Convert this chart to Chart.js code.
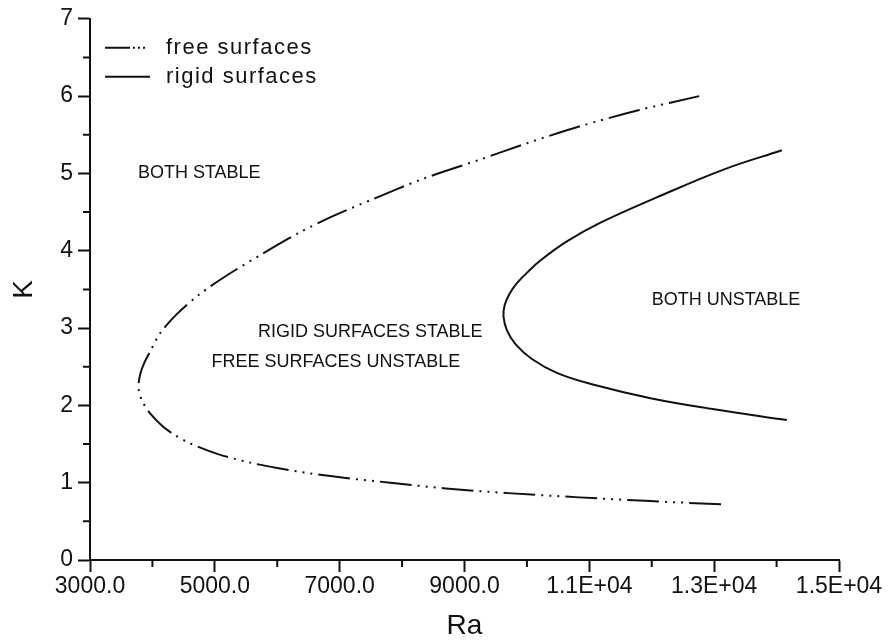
<!DOCTYPE html>
<html>
<head>
<meta charset="utf-8">
<title>Ra - K</title>
<script src="https://cdn.jsdelivr.net/npm/chart.js@4.4.0/dist/chart.umd.min.js"></script>
<style>
  html, body { margin: 0; padding: 0; background: #fff; }
  #grafica { display: block; }
</style>
</head>
<body>
<canvas id="grafica" width="896" height="643"></canvas>
<script>
// Curva de superficies libres (desde el extremo inferior hasta el superior)
const libreRa = [13110, 11900, 10840, 9700, 8700, 7810, 7100, 6530, 6000, 5560, 5050, 4600, 4350, 4150, 3960, 3840, 3785, 3778, 3810, 3870, 3960, 4120, 4390, 4760, 5190, 5720, 6365, 6900, 7540, 8300, 9250, 10000, 10850, 11800, 12760];
const libreK  = [0.72, 0.765, 0.81, 0.865, 0.925, 1.00, 1.06, 1.12, 1.19, 1.26, 1.37, 1.51, 1.62, 1.74, 1.90, 2.05, 2.18, 2.28, 2.42, 2.55, 2.69, 2.93, 3.18, 3.44, 3.68, 3.94, 4.24, 4.45, 4.67, 4.92, 5.18, 5.39, 5.61, 5.82, 6.00];

// Curva de superficies rigidas
const rigidaRa = [14165, 13000, 12000, 11010, 10480, 10080, 9820, 9680, 9625, 9645, 9720, 9840, 10020, 10210, 10640, 11170, 12080, 13150, 14085];
const rigidaK  = [1.81, 1.95, 2.09, 2.28, 2.42, 2.60, 2.79, 2.97, 3.15, 3.30, 3.44, 3.58, 3.73, 3.87, 4.12, 4.36, 4.69, 5.05, 5.30];

// Marcas de los ejes
const xTicks = [3000, 5000, 7000, 9000, 11000, 13000, 15000];
const xTickLabels = ['3000.0', '5000.0', '7000.0', '9000.0', '1.1E+04', '1.3E+04', '1.5E+04'];
const yTicks = [0, 1, 2, 3, 4, 5, 6, 7];
const yTickLabels = ['0', '1', '2', '3', '4', '5', '6', '7'];

// Leyenda y textos de las regiones
const leyenda = ['free surfaces', 'rigid surfaces'];
const regiones = ['BOTH STABLE', 'RIGID SURFACES STABLE', 'FREE SURFACES UNSTABLE', 'BOTH UNSTABLE'];
const regionesRa = [4750, 7490, 6940, 13190];
const regionesK = [5.0, 2.95, 2.565, 3.365];

const NEGRO = '#111';
const trazoLibre = [32, 6, 2, 6, 2, 6, 2, 6];

function puntos(xs, ys) {
    return xs.map((v, i) => ({ x: v, y: ys[i] }));
}

// Plugin para marcas menores, leyenda y textos
const extras = {
    id: 'extras',
    afterDraw(chart) {
        const ctx = chart.ctx;
        const area = chart.chartArea;
        const sx = chart.scales.x;
        const sy = chart.scales.y;
        ctx.save();
        ctx.strokeStyle = NEGRO;
        ctx.lineWidth = 2;

        // marcas menores
        ctx.beginPath();
        sx.ticks.forEach(t => {
            if (!xTicks.includes(t.value)) {
                const px = sx.getPixelForValue(t.value);
                ctx.moveTo(px, area.bottom);
                ctx.lineTo(px, area.bottom + 7);
            }
        });
        sy.ticks.forEach(t => {
            if (!yTicks.includes(t.value)) {
                const py = sy.getPixelForValue(t.value);
                ctx.moveTo(area.left, py);
                ctx.lineTo(area.left - 7, py);
            }
        });
        ctx.stroke();

        // leyenda
        const lx = area.left + 15;
        const ly = [area.top + 29, area.top + 58];
        ctx.setLineDash([25, 3, 2, 3, 2, 3, 2]);
        ctx.beginPath();
        ctx.moveTo(lx, ly[0]);
        ctx.lineTo(lx + 40, ly[0]);
        ctx.stroke();
        ctx.setLineDash([]);
        ctx.beginPath();
        ctx.moveTo(lx, ly[1]);
        ctx.lineTo(lx + 45, ly[1]);
        ctx.stroke();

        ctx.fillStyle = NEGRO;
        ctx.font = '22px "Liberation Sans"';
        ctx.letterSpacing = '1.5px';
        ctx.textAlign = 'left';
        ctx.textBaseline = 'middle';
        leyenda.forEach((t, i) => ctx.fillText(t, lx + 61, ly[i]));

        // textos de las regiones
        ctx.letterSpacing = '0px';
        ctx.font = '18px "Liberation Sans"';
        ctx.textAlign = 'center';
        regiones.forEach((t, i) => {
            ctx.fillText(t, sx.getPixelForValue(regionesRa[i]), sy.getPixelForValue(regionesK[i]));
        });
        ctx.restore();
    }
};

const fuenteTicks = { family: '"Liberation Sans"', size: 23 };

new Chart(document.getElementById('grafica'), {
    type: 'scatter',
    data: {
        datasets: [
            {
                label: leyenda[0],
                data: puntos(libreRa, libreK),
                showLine: true,
                borderColor: NEGRO,
                borderWidth: 2,
                borderDash: trazoLibre,
                borderCapStyle: 'butt',
                tension: 0.3,
                pointRadius: 0,
                fill: false
            },
            {
                label: leyenda[1],
                data: puntos(rigidaRa, rigidaK),
                showLine: true,
                borderColor: NEGRO,
                borderWidth: 2,
                tension: 0.4,
                pointRadius: 0,
                fill: false
            }
        ]
    },
    options: {
        responsive: false,
        animation: false,
        events: [],
        layout: { padding: { top: 17, right: 57, left: 0, bottom: 0 } },
        plugins: {
            legend: { display: false },
            tooltip: { enabled: false }
        },
        scales: {
            x: {
                type: 'linear',
                min: 3000,
                max: 15000,
                afterFit: s => { s.height = 83; },
                border: { display: true, color: NEGRO, width: 2 },
                grid: {
                    drawOnChartArea: false,
                    drawTicks: true,
                    tickLength: 12,
                    tickWidth: 2,
                    tickColor: c => (c.tick && xTicks.includes(c.tick.value)) ? NEGRO : 'rgba(0,0,0,0)'
                },
                ticks: {
                    stepSize: 1000,
                    autoSkip: false,
                    maxRotation: 0,
                    padding: 1,
                    color: NEGRO,
                    font: fuenteTicks,
                    callback: v => {
                        const i = xTicks.indexOf(v);
                        return i >= 0 ? xTickLabels[i] : '';
                    }
                },
                title: {
                    display: true,
                    text: 'Ra',
                    color: NEGRO,
                    font: { family: '"Liberation Sans"', size: 28 },
                    padding: { top: 0, bottom: 0 }
                }
            },
            y: {
                type: 'linear',
                min: 0,
                max: 7,
                afterFit: s => { s.width = 90; },
                border: { display: true, color: NEGRO, width: 2 },
                grid: {
                    drawOnChartArea: false,
                    drawTicks: true,
                    tickLength: 12,
                    tickWidth: 2,
                    tickColor: c => (c.tick && yTicks.includes(c.tick.value)) ? NEGRO : 'rgba(0,0,0,0)'
                },
                ticks: {
                    stepSize: 0.5,
                    autoSkip: false,
                    padding: 5,
                    color: NEGRO,
                    font: fuenteTicks,
                    callback: v => {
                        const i = yTicks.indexOf(v);
                        return i >= 0 ? yTickLabels[i] : '';
                    }
                },
                title: {
                    display: true,
                    text: 'K',
                    color: NEGRO,
                    font: { family: '"Liberation Sans"', size: 28 },
                    padding: { top: 7, bottom: 0 }
                }
            }
        }
    },
    plugins: [extras]
});
</script>
</body>
</html>
